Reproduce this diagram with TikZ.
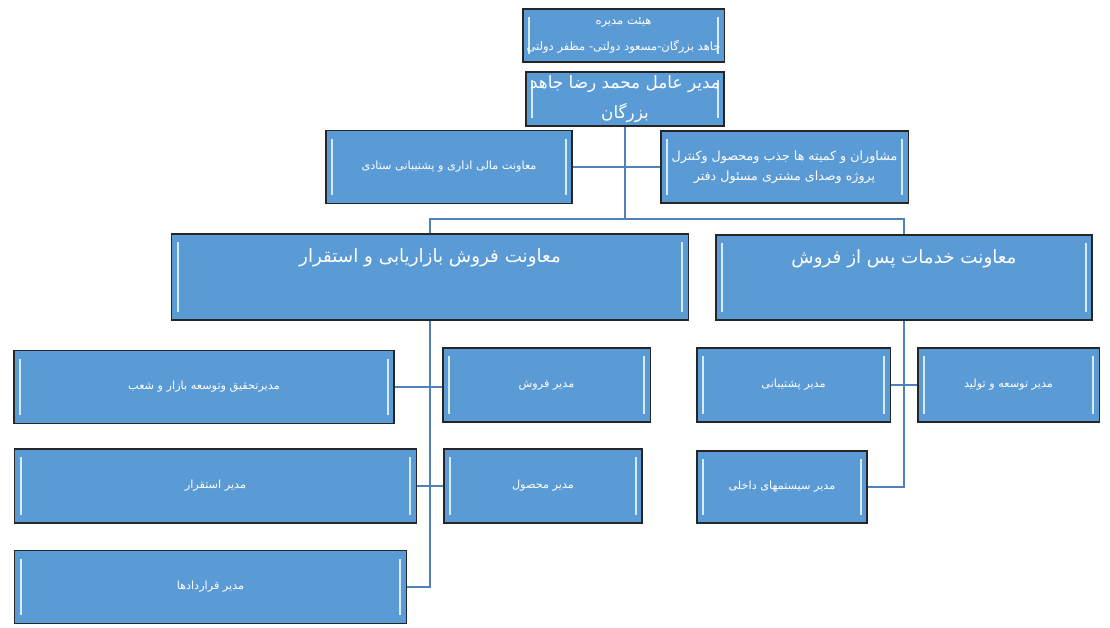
\documentclass[tikz,border=0pt]{standalone}
\usepackage{fontspec}
\usepackage{tikz}
\usetikzlibrary{arrows.meta, positioning, calc}
\TeXXeTstate=1
\newfontfamily\fafont[Script=Arabic]{DejaVu Sans}
\newcommand{\rtl}[1]{\beginR #1\endR}
\definecolor{boxblue}{HTML}{5B9BD5}
\definecolor{bevellight}{HTML}{D6ECFA}
\definecolor{linkblue}{HTML}{4F81BD}

\begin{document}
\begin{tikzpicture}[
    x=0.025cm, y=-0.025cm,
    unit/.style={draw=black!85, line width=0.9pt, fill=boxblue, text=white, align=center,
        font=\fafont\fontsize{8}{13}\selectfont, inner sep=1pt,
        path picture={
            \draw[bevellight, line width=1.6pt] ([xshift=4.5pt,yshift=-6pt]path picture bounding box.north west) -- ([xshift=4.5pt,yshift=6pt]path picture bounding box.south west);
            \draw[bevellight, line width=1.6pt] ([xshift=-4.5pt,yshift=-6pt]path picture bounding box.north east) -- ([xshift=-4.5pt,yshift=6pt]path picture bounding box.south east);
        }},
    big/.style={font=\fafont\fontsize{13}{18}\selectfont},
    link/.style={draw=linkblue, line width=1.4pt},
]
\useasboundingbox (0,0) rectangle (1110,628);

% top level
\node[unit, font=\fafont\fontsize{8.2}{16}\selectfont, minimum width=5.03cm, minimum height=1.33cm] (board) at (623.5,35.5)
    {\rtl{هیئت مدیره}\\[3pt]\rtl{جاهد بزرگان-مسعود دولتی- مظفر دولتی}};
\node[unit, font=\fafont\fontsize{12}{21}\selectfont, minimum width=4.95cm, minimum height=1.35cm] (ceo) at (625,99)
    {\rtl{مدیر عامل محمد رضا جاهد}\\\rtl{بزرگان}};
\node[unit, minimum width=6.15cm, minimum height=1.83cm] (finance) at (449,167)
    {\rtl{معاونت مالی اداری و پشتیبانی ستادی}};
\node[unit, font=\fafont\fontsize{9}{14}\selectfont, minimum width=6.18cm, minimum height=1.8cm] (advisors) at (784.5,167)
    {\rtl{مشاوران و کمیته ها جذب ومحصول وکنترل}\\\rtl{پروژه وصدای مشتری مسئول دفتر}};

% deputies
\node[unit, big, minimum width=12.93cm, minimum height=2.15cm] (salesvp) at (430,277)
    {\rtl{معاونت فروش بازاریابی و استقرار}\\[12pt]\mbox{}};
\node[unit, big, minimum width=9.4cm, minimum height=2.13cm] (aftervp) at (904,277.5)
    {\rtl{معاونت خدمات پس از فروش}\\[12pt]\mbox{}};

% managers, sales side
\node[unit, minimum width=9.5cm, minimum height=1.83cm] (research) at (204,387) {\rtl{مدیرتحقیق وتوسعه بازار و شعب}};
\node[unit, minimum width=5.18cm, minimum height=1.85cm] (salesmgr) at (546.5,385) {\rtl{مدیر فروش}};
\node[unit, minimum width=10.03cm, minimum height=1.85cm] (deploy) at (215.5,486) {\rtl{مدیر استقرار}};
\node[unit, minimum width=4.95cm, minimum height=1.85cm] (product) at (543,486) {\rtl{مدیر محصول}};
\node[unit, minimum width=9.78cm, minimum height=1.83cm] (contracts) at (210.5,587) {\rtl{مدیر قراردادها}};

% managers, after-sales side
\node[unit, minimum width=4.83cm, minimum height=1.85cm] (support) at (793.5,385) {\rtl{مدیر پشتیبانی}};
\node[unit, minimum width=4.53cm, minimum height=1.85cm] (devprod) at (1008.5,385) {\rtl{مدیر توسعه و تولید}};
\node[unit, minimum width=4.25cm, minimum height=1.8cm] (internal) at (782,487) {\rtl{مدیر سیستمهای داخلی}};

% connectors
\draw[link] (ceo.south) -- (ceo.south |- 0,220);
\draw[link] (finance.east) -- (finance.east -| advisors.west);
\draw[link] (salesvp.north) -- ++(0,-14) -| (aftervp.north);
\draw[link] (salesvp.south) |- (contracts.east);
\draw[link] (research.east) -- (research.east -| salesmgr.west);
\draw[link] (deploy.east) -- (product.west);
\draw[link] (aftervp.south) |- (internal.east);
\draw[link] (support.east) -- (devprod.west);
\end{tikzpicture}
\end{document}
